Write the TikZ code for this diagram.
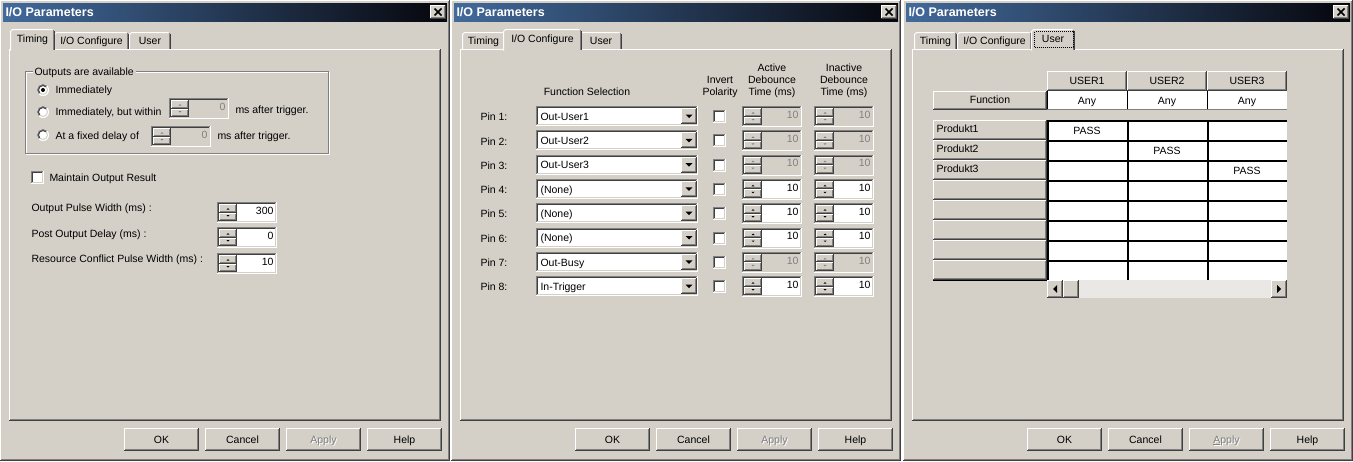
\documentclass[tikz,border=0pt]{standalone}
\usepackage{fontspec}
\setmainfont{Liberation Sans}

\definecolor{winbg}{RGB}{212,208,200}
\definecolor{winshadow}{RGB}{128,128,128}
\definecolor{windark}{RGB}{64,64,64}
\definecolor{wintrack}{RGB}{234,232,228}
\definecolor{titleleft}{RGB}{66,106,155}
\definecolor{titleright}{RGB}{6,6,12}

\tikzset{
  ui/.style={font=\fontsize{10.5}{12}\selectfont,inner sep=0pt,
    text height=7.5pt,text depth=0pt},
  titletext/.style={font=\fontsize{12.5}{14}\selectfont\bfseries,
    text=white,inner sep=0pt,text height=8.5pt,text depth=0pt},
}

% raised box: x1 y1 x2 y2
\newcommand{\raisedbox}[4]{%
  \fill[winbg] ({#1},{#2}) rectangle ({#3},{#4});
  \draw[white] ({#1+.5},{#4-1}) -- ({#1+.5},{#2+.5}) -- ({#3-1},{#2+.5});
  \draw[windark] ({#1},{#4-.5}) -- ({#3-.5},{#4-.5}) -- ({#3-.5},{#2});
  \draw[winshadow] ({#1+1},{#4-1.5}) -- ({#3-1.5},{#4-1.5}) -- ({#3-1.5},{#2+1});
}
% sunken box: x1 y1 x2 y2 fill
\newcommand{\sunkenbox}[5]{%
  \fill[#5] ({#1},{#2}) rectangle ({#3},{#4});
  \draw[winshadow] ({#1+.5},{#4-1}) -- ({#1+.5},{#2+.5}) -- ({#3-1},{#2+.5});
  \draw[windark] ({#1+1.5},{#4-2}) -- ({#1+1.5},{#2+1.5}) -- ({#3-2},{#2+1.5});
  \draw[white] ({#1},{#4-.5}) -- ({#3-.5},{#4-.5}) -- ({#3-.5},{#2});
  \draw[winbg] ({#1+1},{#4-1.5}) -- ({#3-1.5},{#4-1.5}) -- ({#3-1.5},{#2+1});
}
% spin box: x y value fill textcolour name
\newcommand{\spinbox}[6]{%
  \sunkenbox{#1}{#2}{#1+60}{#2+21}{#5}
  \raisedbox{#1+2}{#2+2}{#1+20}{#2+10.5}
  \raisedbox{#1+2}{#2+10.5}{#1+20}{#2+19}
  \fill[#6] ({#1+9.5},{#2+7.5}) -- ({#1+12.5},{#2+7.5}) -- ({#1+11},{#2+6}) -- cycle;
  \fill[#6] ({#1+9.5},{#2+13}) -- ({#1+12.5},{#2+13}) -- ({#1+11},{#2+14.5}) -- cycle;
  \node[ui,text=#6,anchor=east] (#4) at ({#1+57},{#2+8.5}) {#3};
}
% radio button: cx cy
\newcommand{\radiobtn}[2]{%
  \fill[white] ({#1},{#2}) circle[radius=6];
  \draw[winshadow] ({#1},{#2}) ++(135:5.5) arc[start angle=135,end angle=315,radius=5.5];
  \draw[windark] ({#1},{#2}) ++(135:4.5) arc[start angle=135,end angle=315,radius=4.5];
  \draw[white] ({#1},{#2}) ++(315:5.5) arc[start angle=315,end angle=495,radius=5.5];
  \draw[winbg] ({#1},{#2}) ++(315:4.5) arc[start angle=315,end angle=495,radius=4.5];
}
% push buttons: x label name
\newcommand{\pushbutton}[3]{%
  \raisedbox{#1}{428}{#1+75}{451}
  \node[ui] (#3) at ({#1+37.5},439.5) {#2};
}
\newcommand{\greybutton}[3]{%
  \raisedbox{#1}{428}{#1+75}{451}
  \node[ui,text=white] (#3-lo) at ({#1+38.5},440.5) {#2};
  \node[ui,text=winshadow] (#3) at ({#1+37.5},439.5) {#2};
}
% tabs: xl xr label name
\newcommand{\tabback}[4]{%
  \fill[winbg] ({#1},32) rectangle ({#2},49);
  \draw[white] ({#1+.5},49) -- ({#1+.5},34.5) -- ({#1+2.5},32.5) -- ({#2-2.5},32.5);
  \draw[windark] ({#2-.5},34) -- ({#2-.5},49);
  \draw[winshadow] ({#2-1.5},33) -- ({#2-1.5},49);
  \node[ui] (#4) at ({(#1+#2)/2},41) {#3};
}
\newcommand{\tabfront}[4]{%
  \fill[winbg] ({#1-2},29) rectangle ({#2+2},50.5);
  \draw[white] ({#1-1.5},50.5) -- ({#1-1.5},31.5) -- ({#1+.5},29.5) -- ({#2-.5},29.5);
  \draw[windark] ({#2+1.5},31) -- ({#2+1.5},50);
  \draw[winshadow] ({#2+.5},30) -- ({#2+.5},50);
  \node[ui] (#4) at ({(#1+#2)/2},39) {#3};
}
% window, title bar and tab panel: prefix
\newcommand{\dialogframe}[1]{%
  \raisedbox{0}{0}{450}{461}
  \shade[left color=titleleft,right color=titleright] (3,3) rectangle (447,21);
  \node[titletext,anchor=west] (#1-title) at (5,12) {I/O Parameters};
  \raisedbox{430}{5}{446}{19}
  \draw[line width=1.6pt] (434.5,8.5) -- (441.5,15.5) (441.5,8.5) -- (434.5,15.5);
  \raisedbox{9}{49}{441}{421}
}

\begin{document}
\begin{tikzpicture}[x=1pt,y=-1pt,line width=1pt]
\useasboundingbox (0,0) rectangle (1353,461);

%% Timing
\begin{scope}
\dialogframe{a}
\tabback{54}{129}{I/O Configure}{a-tab2}
\tabback{129}{171}{User}{a-tab3}
\tabfront{12}{53}{Timing}{a-tab1}

\draw[white] (26.5,72.5) rectangle (329.5,154.5);
\draw[winshadow] (25.5,71.5) rectangle (328.5,153.5);
\node[ui,anchor=west,fill=winbg,inner xsep=2pt] (a-group) at (32,71.5) {Outputs are available};

\radiobtn{43}{90}
\fill (43,90) circle[radius=2];
\radiobtn{43}{112}
\radiobtn{43}{135}
\node[ui,anchor=west] (a-now) at (55,90) {Immediately};
\node[ui,anchor=west] (a-within) at (55,112) {Immediately, but within};
\node[ui,anchor=west] (a-fixed) at (55,136) {At a fixed delay of};
\spinbox{169}{98}{0}{a-within-v}{winbg}{winshadow}
\spinbox{151}{126}{0}{a-fixed-v}{winbg}{winshadow}
\node[ui,anchor=west] (a-within-ms) at (235,110) {ms after trigger.};
\node[ui,anchor=west] (a-fixed-ms) at (217,136) {ms after trigger.};

\sunkenbox{31}{171}{44}{184}{white}
\node[ui,anchor=west] (a-keep) at (49,177.5) {Maintain Output Result};

\node[ui,anchor=west] (a-pulse) at (31,208) {Output Pulse Width (ms) :};
\node[ui,anchor=west] (a-post) at (31,234) {Post Output Delay (ms) :};
\node[ui,anchor=west] (a-conf) at (31,259) {Resource Conflict Pulse Width (ms) :};
\spinbox{217}{202}{300}{a-pulse-v}{white}{black}
\spinbox{217}{227}{0}{a-post-v}{white}{black}
\spinbox{217}{253}{10}{a-conf-v}{white}{black}

\pushbutton{124}{OK}{a-ok}
\pushbutton{205}{Cancel}{a-cancel}
\greybutton{286}{Apply}{a-apply}
\pushbutton{367}{Help}{a-help}
\end{scope}

%% I/O Configure
\begin{scope}[xshift=451pt]
\dialogframe{b}
\tabback{11}{54}{Timing}{b-tab1}
\tabback{129}{171}{User}{b-tab3}
\tabfront{54}{129}{I/O Configure}{b-tab2}

\node[ui] (b-hfn) at (136,92) {Function Selection};
\node[ui] (b-hinv1) at (269,80) {Invert};
\node[ui] (b-hinv2) at (269,92) {Polarity};
\node[ui] (b-hact1) at (321,68) {Active};
\node[ui] (b-hact2) at (321,80) {Debounce};
\node[ui] (b-hact3) at (321,92) {Time (ms)};
\node[ui] (b-hina1) at (393,68) {Inactive};
\node[ui] (b-hina2) at (393,80) {Debounce};
\node[ui] (b-hina3) at (393,92) {Time (ms)};

\foreach \i/\fn/\boxcol/\valcol in {1/Out-User1/winbg/winshadow,
    2/Out-User2/winbg/winshadow, 3/Out-User3/winbg/winshadow,
    4/(None)/white/black, 5/(None)/white/black, 6/(None)/white/black,
    7/Out-Busy/winbg/winshadow, 8/In-Trigger/white/black}{
  \pgfmathsetmacro{\y}{116+24.3*(\i-1)}
  \node[ui,anchor=west] (b-pin\i) at (29,{\y+1}) {Pin \i:};
  \sunkenbox{85}{\y-10}{247}{\y+10}{white}
  \raisedbox{230}{\y-8}{246}{\y+8}
  \fill (234.5,{\y-1.5}) -- (241.5,{\y-1.5}) -- (238,{\y+2}) -- cycle;
  \node[ui,anchor=west] (b-fn\i) at (89,{\y+.5}) {\fn};
  \sunkenbox{262}{\y-6}{275}{\y+7}{white}
  \spinbox{291}{\y-10}{10}{b-act\i}{\boxcol}{\valcol}
  \spinbox{363}{\y-10}{10}{b-ina\i}{\boxcol}{\valcol}
}

\pushbutton{124}{OK}{b-ok}
\pushbutton{205}{Cancel}{b-cancel}
\greybutton{286}{Apply}{b-apply}
\pushbutton{367}{Help}{b-help}
\end{scope}

%% User
\begin{scope}[xshift=903pt]
\dialogframe{c}
\tabback{11}{54}{Timing}{c-tab1}
\tabback{54}{129}{I/O Configure}{c-tab2}
\tabfront{130}{170}{User}{c-tab3}
\draw[dash pattern=on 1pt off 1pt] (131.5,31.5) rectangle (170.5,47.5);

\foreach \c/\lab in {1/USER1,2/USER2,3/USER3}{
  \pgfmathsetmacro{\xl}{64+80*\c}
  \raisedbox{\xl}{71}{\xl+80}{91}
  \node[ui] (c-head\c) at ({\xl+40},81) {\lab};
  \fill[white] ({\xl},91) rectangle ({\xl+80},110);
  \draw[black] ({\xl+.5},91) -- ({\xl+.5},110);
  \draw[winshadow] ({\xl},109.5) -- ({\xl+80},109.5);
  \node[ui] (c-any\c) at ({\xl+40},101) {Any};
}
\raisedbox{30}{91}{144}{110}
\node[ui] (c-func) at (87,100) {Function};

\foreach \r in {1,...,8}{
  \pgfmathsetmacro{\yt}{100+20*\r}
  \raisedbox{30}{\yt}{144}{\yt+20}
  \foreach \c in {1,2,3}{
    \pgfmathsetmacro{\xl}{64+80*\c}
    \fill[white] ({\xl},{\yt}) rectangle ({\xl+80},{\yt+20});
    \draw[black,line width=1.5pt] ({\xl+.75},{\yt+20}) -- ({\xl+.75},{\yt+.75}) -- ({\xl+80},{\yt+.75});
  }
}
\foreach \r in {1,2,3}{
  \node[ui,anchor=west] (c-prod\r) at (33,{109+20*\r}) {Produkt\r};
  \node[ui] (c-pass\r) at ({104+80*\r},{111+20*\r}) {PASS};
}
\draw[black] (30,280.5) -- (144,280.5);

% scroll bar
\fill[wintrack] (176,280) rectangle (368,298);
\raisedbox{144}{280}{160}{298}
\raisedbox{160}{280}{176}{298}
\raisedbox{368}{280}{384}{298}
\fill (150,289) -- (154,285) -- (154,293) -- cycle;
\fill (378,289) -- (374,285) -- (374,293) -- cycle;

\pushbutton{124}{OK}{c-ok}
\pushbutton{205}{Cancel}{c-cancel}
\greybutton{286}{\underline{A}pply}{c-apply}
\pushbutton{367}{Help}{c-help}
\end{scope}

\end{tikzpicture}
\end{document}
